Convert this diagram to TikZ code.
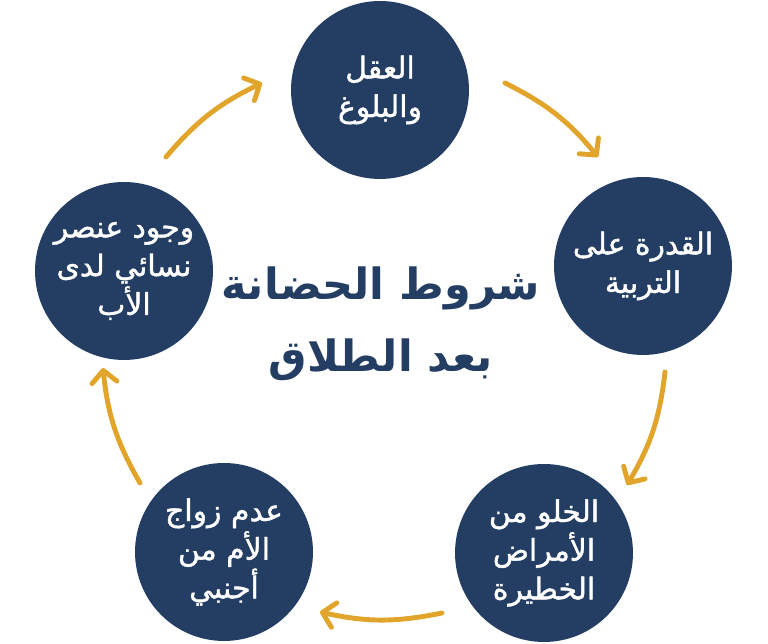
\documentclass[tikz,border=0pt]{standalone}
\usepackage{fontspec}
\usetikzlibrary{arrows.meta}
\TeXXeTstate=1
\newfontfamily\arabicfont[Script=Arabic]{DejaVu Sans}
\newfontfamily\arabicmid[Script=Arabic, FakeBold=1.3]{DejaVu Sans}
\definecolor{navy}{HTML}{233D63}
\definecolor{gold}{HTML}{E2A52C}
\newcommand{\artext}[1]{\beginR #1\endR}

\begin{document}
\begin{tikzpicture}[
            x = 0.02cm, y = 0.02cm, % one unit = one pixel
            > = {Straight Barb[length=2.4mm, width=5mm, round]}, % open arrow head
            flow/.style = {->, draw = gold, line width = 2.8pt, line cap = round},
            cond/.style = {
                circle,
                fill = navy,
                text = white,
                minimum size = 3.56cm,
                inner sep = 0pt,
                align = center,
                font = \arabicmid\fontsize{17}{22}\selectfont
            }
        ]
        \useasboundingbox (0,0) rectangle (768,644);

        \node[cond] (mind) at (380,554) {\artext{العقل}\\\artext{والبلوغ}};
        \node[cond] (raise) at (643,378) {\artext{القدرة على}\\\artext{التربية}};
        \node[cond] (health) at (544,91) {\artext{الخلو من}\\\artext{الأمراض}\\\artext{الخطيرة}};
        \node[cond] (marriage) at (224,92) {\artext{عدم زواج}\\\artext{الأم من}\\\artext{أجنبي}};
        \node[cond] (women) at (124,373) {\artext{وجود عنصر}\\\artext{نسائي لدى}\\\artext{الأب}};

        \node[text = navy, align = center, font = \arabicfont\bfseries\fontsize{24.5}{41}\selectfont] (title) at (381,320)
            {\artext{شروط الحضانة}\\\artext{بعد الطلاق}};

        % arrow ends
        \coordinate (s1) at (505,561); \coordinate (e1) at (598,487);
        \coordinate (s2) at (665,272); \coordinate (e2) at (627,159);
        \coordinate (s3) at (442,31);  \coordinate (e3) at (320,32);
        \coordinate (s4) at (140,161); \coordinate (e4) at (103,276);
        \coordinate (s5) at (166,487); \coordinate (e5) at (262,561);

        \draw[flow] (s1) to[bend left=12] (e1);
        \draw[flow] (s2) to[bend left=12] (e2);
        \draw[flow] (s3) to[bend left=12] (e3);
        \draw[flow] (s4) to[bend left=12] (e4);
        \draw[flow] (s5) to[bend left=12] (e5);

    \end{tikzpicture}
\end{document}
